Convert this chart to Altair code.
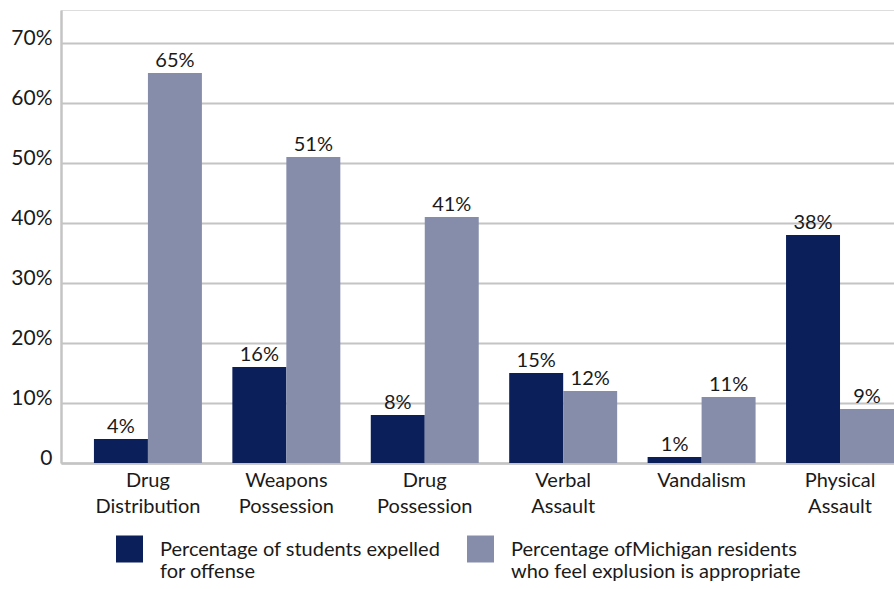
import altair as alt
import pandas as pd

categories = ["Drug Distribution", "Weapons Possession", "Drug Possession",
              "Verbal Assault", "Vandalism", "Physical Assault"]
expelled = [4, 16, 8, 15, 1, 38]
appropriate = [65, 51, 41, 12, 11, 9]
series = ["Percentage of students expelled|for offense",
          "Percentage ofMichigan residents|who feel explusion is appropriate"]
colors = ["#0b1f5a", "#858dab"]
y_ticks = [0, 10, 20, 30, 40, 50, 60, 70]

rows = []
for c, a, b in zip(categories, expelled, appropriate):
    rows.append({"category": c, "series": series[0], "value": a})
    rows.append({"category": c, "series": series[1], "value": b})
df = pd.DataFrame(rows)

FONT = "Lato"

x = alt.X("category:N", sort=categories,
          scale=alt.Scale(paddingInner=0.22, paddingOuter=0.119, align=1),
          axis=alt.Axis(title=None, labelAngle=0, labelExpr="split(datum.label, ' ')",
                        labelFontSize=20, labelLineHeight=26, labelPadding=7,
                        ticks=False, domainColor="#c4c4c4", domainWidth=2.5,
                        labelColor="#1a1a1a", labelFont=FONT))
xo = alt.XOffset("series:N", sort=series, scale=alt.Scale(paddingInner=0, paddingOuter=0))
y = alt.Y("value:Q", scale=alt.Scale(domain=[0, 75.5], nice=False, zero=True),
          axis=alt.Axis(title=None, values=y_ticks,
                        labelExpr="datum.value == 0 ? '0' : datum.value + '%'",
                        labelFontSize=21, labelFont=FONT, labelColor="#1a1a1a",
                        labelBaseline="alphabetic", labelOffset=1,
                        labelPadding=9, ticks=False, grid=True, gridColor="#c4c4c4",
                        gridWidth=2, domainColor="#c4c4c4", domainWidth=2.5))

color = alt.Color("series:N", sort=series,
                  scale=alt.Scale(domain=series, range=colors),
                  legend=alt.Legend(title=None, orient="none", legendX=55, legendY=532,
                                    direction="horizontal", columns=2, columnPadding=26,
                                    symbolType="M-1,-1.5H1V0.5H-1Z", symbolSize=729,
                                    symbolStrokeWidth=0, symbolOpacity=1,
                                    labelExpr="split(datum.label, '|')",
                                    labelFontSize=20, labelFont=FONT, labelColor="#1a1a1a",
                                    labelOffset=17, labelBaseline="alphabetic",
                                    labelLimit=400))

bars = alt.Chart(df).mark_bar(opacity=1).encode(x=x, xOffset=xo, y=y, color=color)
labels = alt.Chart(df).transform_calculate(lab="datum.value + '%'").mark_text(
    baseline="alphabetic", dy=-6, fontSize=20, font=FONT, color="#1a1a1a"
).encode(x=x, xOffset=xo, y=y, text="lab:N")

chart = alt.layer(bars, labels).properties(
    width=833, height=453,
    padding={"left": 61, "top": 10, "right": 0, "bottom": 126},
    autosize=alt.AutoSizeParams(type="none"),
).configure_view(stroke=None).configure(background="white")

chart.save("out.html", embed_options={"renderer": "svg", "actions": False})
